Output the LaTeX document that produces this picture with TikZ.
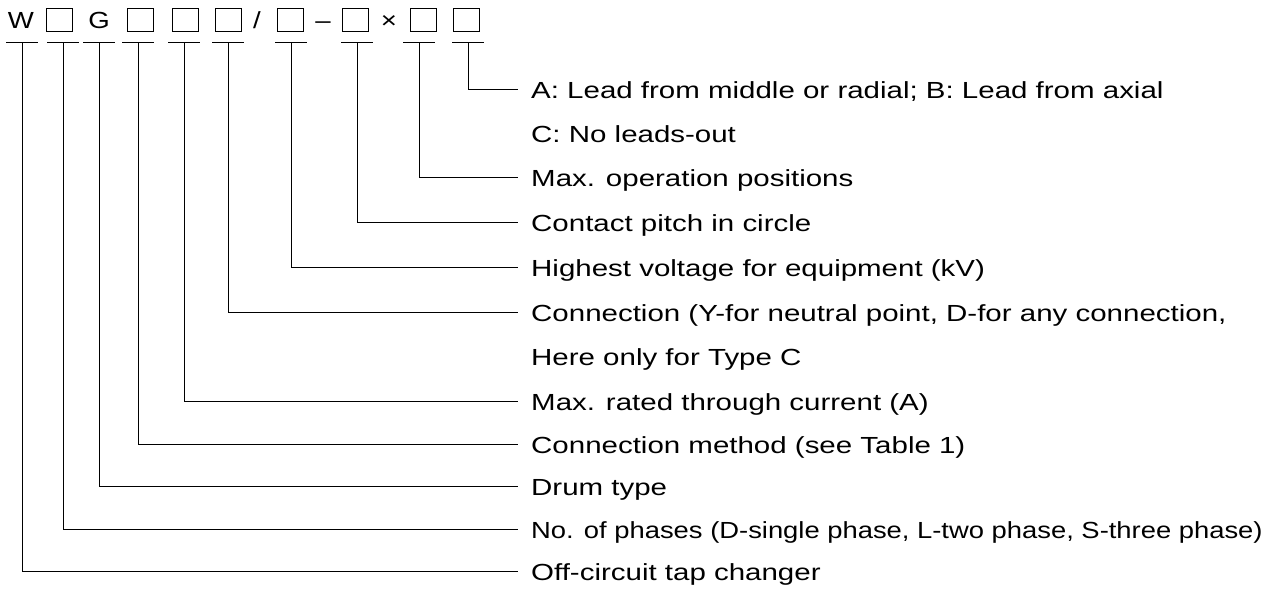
\documentclass[tikz,border=0pt]{standalone}
\usepackage{graphicx}
\usepackage{fontspec}
\setmainfont{Liberation Sans}
\usetikzlibrary{positioning}
\newcommand{\wide}[2][1.265]{\scalebox{#1}[1]{#2}}
\tikzstyle{sym}=[inner sep=0pt, anchor=base, font=\fontsize{23.3}{26}\selectfont]
\tikzstyle{slot}=[draw, line width=1pt, minimum width=26pt, minimum height=23pt, inner sep=0pt]
\tikzstyle{desc}=[anchor=west, inner xsep=13pt, inner ysep=0pt, text height=18pt, text depth=0pt, font=\fontsize{23.3}{26}\selectfont]
\tikzstyle{lead}=[line width=1pt]

\begin{document}
\begin{tikzpicture}[x=1pt, y=-1pt]
	\useasboundingbox (0,0) rectangle (1282,590);

	% Type code
	\node[sym] (w) at (21,28) {\wide[1.185]{W}};
	\node[slot] (s1) at (59,20) {};
	\node[sym] (g) at (99,28) {\wide[1.185]{G}};
	\node[slot] (s2) at (140,20) {};
	\node[slot] (s3) at (185,20) {};
	\node[slot] (s4) at (228,20) {};
	\node[sym] (slash) at (257,28) {\wide[1.185]{/}};
	\node[slot] (s5) at (290,20) {};
	\node[sym] (dash) at (323,28) {\wide[1.185]{–}};
	\node[slot] (s6) at (355,20) {};
	\node[sym] (times) at (389,28) {\wide[1.185]{×}};
	\node[slot] (s7) at (423,20) {};
	\node[slot] (s8) at (466,20) {};

	% Meanings
	\node[desc] (leada) at (518, 89) {\wide{A: Lead from middle or radial; B: Lead from axial}};
	\node[desc] (leadc) at (518,133) {\wide{C: No leads-out}};
	\node[desc] (positions) at (518,177) {\wide{Max. operation positions}};
	\node[desc] (pitch) at (518,222) {\wide{Contact pitch in circle}};
	\node[desc] (volt) at (518,267) {\wide{Highest voltage for equipment (kV)}};
	\node[desc] (conn) at (518,312) {\wide{Connection (Y-for neutral point, D-for any connection,}};
	\node[desc] (here) at (518,356) {\wide{Here only for Type C}};
	\node[desc] (current) at (518,401) {\wide{Max. rated through current (A)}};
	\node[desc] (cmeth) at (518,444) {\wide{Connection method (see Table 1)}};
	\node[desc] (drum) at (518,486) {\wide{Drum type}};
	\node[desc] (phases) at (518,529) {\wide[1.175]{No. of phases (D-single phase, L-two phase, S-three phase)}};
	\node[desc] (offc) at (518,571) {\wide{Off-circuit tap changer}};

	% Underlines and leads
	\foreach \x/\lbl in {22/offc, 63/phases, 99/drum, 138/cmeth, 184/current,
		228/conn, 291/volt, 357/pitch, 419/positions, 468/leada}{
		\coordinate (u) at (\x,42);
		\draw[lead] ([xshift=-16pt]u) -- ([xshift=16pt]u);
		\draw[lead] (u) |- (\lbl.west);
	}
\end{tikzpicture}
\end{document}
